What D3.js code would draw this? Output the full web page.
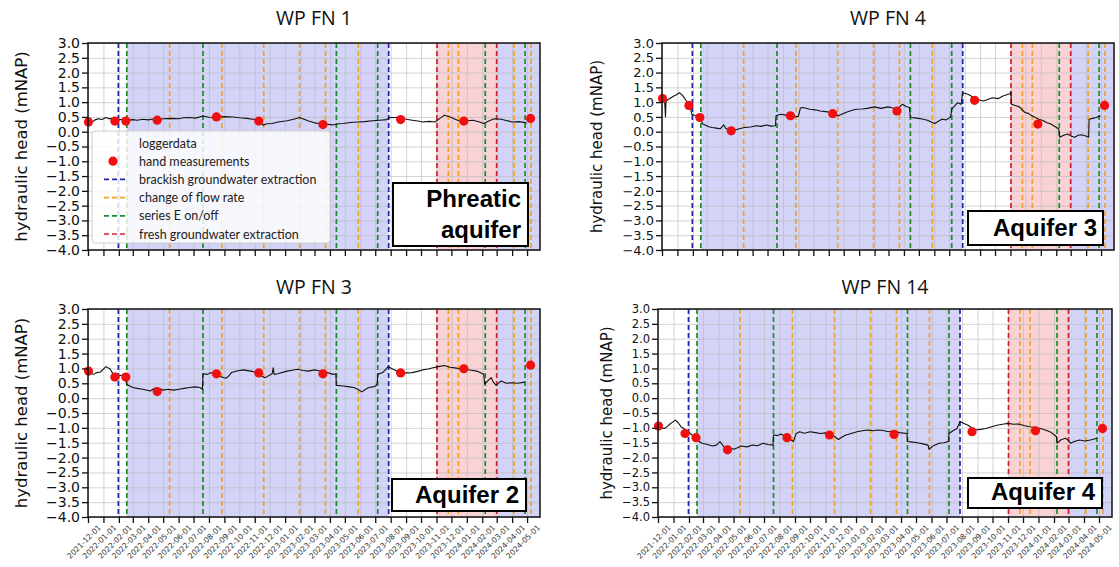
<!DOCTYPE html>
<html>
<head>
<meta charset="utf-8">
<script src="https://cdn.jsdelivr.net/npm/d3@7"></script>
<style>
body { margin: 0; background: #fff; }
svg { display: block; }
</style>
</head>
<body>
<svg id="svg" width="1119" height="567"></svg>
<script>
var parse = d3.timeParse("%Y-%m-%d");

// axis range
var dateStart = "2021-12-01", dateEnd = "2024-05-27";
var firstTick = "2021-12-01", lastTick = "2024-05-01";
var yTicks = d3.range(-4, 3.001, 0.5);

// events (dashed lines)
var brackishDates = ["2022-01-31", "2023-07-28"];
var flowRateDates = ["2022-05-14", "2022-08-27", "2022-11-19", "2023-01-30", "2023-03-23",
    "2023-05-28", "2023-11-25", "2023-12-15", "2024-04-05", "2024-05-09"];
var seriesEDates = ["2022-02-17", "2022-07-20", "2023-04-14", "2023-07-06", "2024-02-07", "2024-04-27"];
var freshDates = ["2023-11-02", "2024-03-01"];

// shaded periods
var brackishPeriods = [["2022-02-17", "2023-07-28"], ["2024-03-01", "2024-05-27"]];
var freshPeriods = [["2023-11-02", "2024-03-01"]];

// hand measurements
var handDates = ["2021-12-02", "2022-01-24", "2022-02-15", "2022-04-19", "2022-08-16",
    "2022-11-09", "2023-03-18", "2023-08-21", "2023-12-26", "2024-05-08"];
var handFN1 = [0.33, 0.36, 0.36, 0.39, 0.50, 0.36, 0.24, 0.41, 0.36, 0.45];
var handFN4 = [1.12, 0.89, 0.48, 0.03, 0.54, 0.61, 0.70, 1.06, 0.26, 0.89];
var handFN3 = [0.91, 0.71, 0.71, 0.22, 0.82, 0.85, 0.82, 0.85, 0.99, 1.11];
var handFN14 = [-0.94, -1.19, -1.33, -1.74, -1.33, -1.24, -1.22, -1.13, -1.10, -1.02];

// logger data
var loggerFN1 = [["2021-12-01",0.33],["2021-12-05",0.27],["2021-12-08",0.30],["2021-12-15",0.40],["2021-12-22",0.44],
    ["2021-12-29",0.41],["2022-01-06",0.48],["2022-01-12",0.44],["2022-01-17",0.45],["2022-01-24",0.40],["2022-02-01",0.40],
    ["2022-02-09",0.42],["2022-02-17",0.39],["2022-03-01",0.41],["2022-03-10",0.39],["2022-03-21",0.42],["2022-04-01",0.40],
    ["2022-04-10",0.43],["2022-04-19",0.41],["2022-05-01",0.44],["2022-05-18",0.45],["2022-06-01",0.44],["2022-06-10",0.47],
    ["2022-06-23",0.48],["2022-07-05",0.46],["2022-07-20",0.53],["2022-08-01",0.49],["2022-08-16",0.48],["2022-09-01",0.51],
    ["2022-09-18",0.50],["2022-10-01",0.47],["2022-10-17",0.45],["2022-10-28",0.42],["2022-11-08",0.39],["2022-11-14",0.30],
    ["2022-11-18",0.22],["2022-11-25",0.27],["2022-12-06",0.28],["2022-12-18",0.33],["2023-01-05",0.37],["2023-01-18",0.42],
    ["2023-01-30",0.48],["2023-02-08",0.42],["2023-02-16",0.37],["2023-03-01",0.30],["2023-03-10",0.28],["2023-03-19",0.26],
    ["2023-04-07",0.23],["2023-04-18",0.27],["2023-04-28",0.28],["2023-05-12",0.31],["2023-05-27",0.33],["2023-06-10",0.34],
    ["2023-06-25",0.37],["2023-07-10",0.39],["2023-07-24",0.41],["2023-07-31",0.48],["2023-08-15",0.48],["2023-08-30",0.43],
    ["2023-09-13",0.39],["2023-09-25",0.36],["2023-10-04",0.33],["2023-10-18",0.35],["2023-10-29",0.33],["2023-11-08",0.45],
    ["2023-11-17",0.56],["2023-11-24",0.52],["2023-12-01",0.48],["2023-12-12",0.40],["2023-12-22",0.33],["2024-01-03",0.37],
    ["2024-01-13",0.39],["2024-01-25",0.34],["2024-02-04",0.28],["2024-02-14",0.36],["2024-02-25",0.44],["2024-03-10",0.42],
    ["2024-03-20",0.38],["2024-04-01",0.33],["2024-04-15",0.34],["2024-04-30",0.30]];

var loggerFN4 = [["2021-12-03",1.04],["2021-12-06",1.08],["2021-12-07",0.82],["2021-12-08",0.50],["2021-12-09",1.02],
    ["2021-12-14",1.10],["2021-12-20",1.16],["2021-12-25",1.21],["2021-12-30",1.25],["2022-01-05",1.32],["2022-01-09",1.26],
    ["2022-01-12",1.21],["2022-01-19",1.04],["2022-01-26",0.87],["2022-01-30",0.59],["2022-02-07",0.54],["2022-02-15",0.46],
    ["2022-02-21",0.26],["2022-03-05",0.17],["2022-03-12",0.14],["2022-03-20",0.12],["2022-03-28",0.10],["2022-04-04",0.23],
    ["2022-04-08",0.12],["2022-04-11",0.09],["2022-04-25",0.05],["2022-05-05",0.10],["2022-05-16",0.14],["2022-05-28",0.16],
    ["2022-06-08",0.20],["2022-06-18",0.18],["2022-06-29",0.23],["2022-07-08",0.19],["2022-07-17",0.20],["2022-07-18",0.54],
    ["2022-07-27",0.59],["2022-08-04",0.57],["2022-08-12",0.54],["2022-08-22",0.50],["2022-09-01",0.52],["2022-09-05",0.80],
    ["2022-09-10",0.82],["2022-09-24",0.76],["2022-10-05",0.74],["2022-10-15",0.70],["2022-10-26",0.68],["2022-11-06",0.65],
    ["2022-11-14",0.60],["2022-11-20",0.54],["2022-12-05",0.65],["2022-12-15",0.71],["2022-12-26",0.76],["2023-01-07",0.77],
    ["2023-01-17",0.79],["2023-02-01",0.84],["2023-02-14",0.79],["2023-02-28",0.84],["2023-03-08",0.81],["2023-03-18",0.76],
    ["2023-03-29",0.93],["2023-04-05",0.85],["2023-04-12",0.82],["2023-04-14",0.48],["2023-04-27",0.46],["2023-05-08",0.43],
    ["2023-05-18",0.39],["2023-06-02",0.28],["2023-06-10",0.36],["2023-06-16",0.42],["2023-06-25",0.40],["2023-07-04",0.50],
    ["2023-07-06",0.76],["2023-07-18",0.98],["2023-07-25",0.93],["2023-07-28",1.32],["2023-08-09",1.26],["2023-08-24",1.10],
    ["2023-09-08",1.04],["2023-09-26",1.15],["2023-10-08",1.12],["2023-10-17",1.21],["2023-11-01",1.29],["2023-11-02",1.36],
    ["2023-11-03",0.93],["2023-11-12",0.88],["2023-11-19",0.84],["2023-11-30",0.65],["2023-12-07",0.62],["2023-12-14",0.54],
    ["2023-12-28",0.42],["2024-01-05",0.38],["2024-01-12",0.31],["2024-01-20",0.27],["2024-01-27",0.20],["2024-02-06",0.09],
    ["2024-02-08",-0.19],["2024-02-16",-0.12],["2024-02-24",-0.08],["2024-03-02",-0.15],["2024-03-09",-0.19],["2024-03-16",-0.12],
    ["2024-03-23",-0.10],["2024-03-30",-0.14],["2024-04-06",-0.19],["2024-04-07",0.42],["2024-04-14",0.45],["2024-04-21",0.48],
    ["2024-04-30",0.54]];

var loggerFN3 = [["2021-12-01",0.91],["2021-12-06",0.85],["2021-12-12",0.80],["2021-12-19",0.86],["2021-12-26",0.88],
    ["2022-01-01",0.98],["2022-01-06",1.06],["2022-01-10",1.02],["2022-01-14",0.99],["2022-01-21",0.80],["2022-01-26",0.84],
    ["2022-02-01",0.75],["2022-02-08",0.78],["2022-02-12",0.72],["2022-02-17",0.47],["2022-02-22",0.42],["2022-03-01",0.36],
    ["2022-03-10",0.33],["2022-03-21",0.30],["2022-04-05",0.24],["2022-04-14",0.33],["2022-04-23",0.32],["2022-05-01",0.27],
    ["2022-05-11",0.30],["2022-05-22",0.27],["2022-06-02",0.30],["2022-06-12",0.33],["2022-06-23",0.36],["2022-07-04",0.38],
    ["2022-07-14",0.36],["2022-07-19",0.30],["2022-07-20",0.82],["2022-07-29",0.80],["2022-08-05",0.86],["2022-08-13",0.77],
    ["2022-08-25",0.72],["2022-09-04",0.67],["2022-09-10",0.75],["2022-09-15",0.86],["2022-09-28",0.92],["2022-10-09",0.95],
    ["2022-10-24",0.91],["2022-11-01",0.88],["2022-11-08",0.80],["2022-11-15",0.74],["2022-11-22",0.69],["2022-12-06",0.82],
    ["2022-12-08",1.02],["2022-12-10",0.80],["2022-12-17",0.82],["2023-01-05",0.91],["2023-01-15",0.94],["2023-01-26",0.97],
    ["2023-02-06",0.93],["2023-02-16",0.91],["2023-03-01",0.95],["2023-03-10",0.92],["2023-03-23",0.88],["2023-04-07",0.80],
    ["2023-04-13",0.82],["2023-04-14",0.43],["2023-04-28",0.41],["2023-05-10",0.38],["2023-05-19",0.36],["2023-05-27",0.30],
    ["2023-06-04",0.21],["2023-06-12",0.30],["2023-06-18",0.36],["2023-06-26",0.38],["2023-07-02",0.41],["2023-07-05",0.50],
    ["2023-07-06",0.80],["2023-07-16",0.86],["2023-07-27",1.06],["2023-08-04",0.99],["2023-08-12",0.92],["2023-08-21",0.83],
    ["2023-09-01",0.85],["2023-09-13",0.86],["2023-09-24",0.90],["2023-10-04",0.95],["2023-10-15",0.98],["2023-10-25",1.02],
    ["2023-11-05",1.06],["2023-11-17",1.10],["2023-11-28",1.04],["2023-12-08",1.02],["2023-12-18",0.99],["2023-12-30",0.97],
    ["2024-01-10",0.94],["2024-01-21",0.91],["2024-02-04",0.80],["2024-02-06",0.47],["2024-02-12",0.58],["2024-02-19",0.69],
    ["2024-02-24",0.52],["2024-02-29",0.43],["2024-03-10",0.58],["2024-03-20",0.50],["2024-04-01",0.52],["2024-04-12",0.50],
    ["2024-04-26",0.54]];

var loggerFN14 = [["2021-12-03",-0.94],["2021-12-08",-1.00],["2021-12-14",-1.02],["2021-12-20",-0.95],["2021-12-25",-0.87],
    ["2021-12-31",-0.80],["2022-01-05",-0.74],["2022-01-10",-0.82],["2022-01-16",-0.96],["2022-01-26",-1.07],["2022-02-01",-1.15],
    ["2022-02-07",-1.24],["2022-02-17",-1.41],["2022-02-27",-1.52],["2022-03-08",-1.55],["2022-03-20",-1.61],["2022-03-28",-1.58],
    ["2022-04-04",-1.46],["2022-04-10",-1.60],["2022-04-14",-1.69],["2022-04-24",-1.68],["2022-05-02",-1.72],["2022-05-10",-1.66],
    ["2022-05-16",-1.61],["2022-05-28",-1.64],["2022-06-08",-1.58],["2022-06-18",-1.60],["2022-06-29",-1.52],["2022-07-09",-1.56],
    ["2022-07-19",-1.58],["2022-07-20",-1.24],["2022-07-28",-1.26],["2022-08-04",-1.21],["2022-08-18",-1.35],["2022-08-29",-1.46],
    ["2022-09-03",-1.20],["2022-09-10",-1.13],["2022-09-20",-1.18],["2022-10-01",-1.13],["2022-10-12",-1.16],["2022-10-22",-1.19],
    ["2022-11-01",-1.17],["2022-11-13",-1.21],["2022-11-27",-1.39],["2022-12-05",-1.30],["2022-12-12",-1.24],["2022-12-24",-1.18],
    ["2023-01-03",-1.13],["2023-01-14",-1.10],["2023-01-25",-1.07],["2023-02-04",-1.10],["2023-02-14",-1.07],["2023-02-24",-1.09],
    ["2023-03-07",-1.13],["2023-03-18",-1.10],["2023-03-29",-1.16],["2023-04-13",-1.19],["2023-04-14",-1.46],["2023-04-24",-1.48],
    ["2023-05-04",-1.50],["2023-05-15",-1.54],["2023-05-25",-1.58],["2023-05-27",-1.72],["2023-06-05",-1.60],["2023-06-16",-1.52],
    ["2023-06-26",-1.50],["2023-07-05",-1.46],["2023-07-06",-1.19],["2023-07-14",-1.10],["2023-07-22",-1.02],["2023-07-28",-0.79],
    ["2023-08-05",-0.85],["2023-08-13",-0.91],["2023-08-27",-1.07],["2023-09-07",-1.05],["2023-09-18",-1.02],["2023-09-29",-0.96],
    ["2023-10-10",-0.91],["2023-10-21",-0.88],["2023-11-01",-0.85],["2023-11-12",-0.88],["2023-11-22",-0.87],["2023-12-03",-0.92],
    ["2023-12-14",-0.96],["2023-12-25",-0.99],["2024-01-05",-1.02],["2024-01-16",-1.08],["2024-01-27",-1.16],["2024-02-06",-1.30],
    ["2024-02-07",-1.52],["2024-02-15",-1.40],["2024-02-24",-1.35],["2024-03-01",-1.42],["2024-03-05",-1.52],["2024-03-14",-1.45],
    ["2024-03-23",-1.41],["2024-04-03",-1.44],["2024-04-14",-1.41],["2024-04-27",-1.35]];

var legendLabels = ["loggerdata", "hand measurements", "brackish groundwater extraction",
    "change of flow rate", "series E on/off", "fresh groundwater extraction"];

var svg = d3.select("#svg");

var eventStyles = [
    { dates: brackishDates, color: "#2323a8" },
    { dates: flowRateDates, color: "#f0a32a" },
    { dates: seriesEDates, color: "#1c8a2e" },
    { dates: freshDates, color: "#d0202e" }
];

var panels = [
    { title: "WP FN 1", left: 88, right: 540, top: 43, bottom: 250, titleY: 25, tickFont: 14, labelX: 27, labelFont: 16.5,
      logger: loggerFN1, hand: handFN1, xLabels: false, legend: true,
      box: { x: 393, y: 183, w: 135, h: 63, lines: ["Phreatic", "aquifer"], tx: 521, ty: [207, 238] } },
    { title: "WP FN 4", left: 662, right: 1114, top: 43, bottom: 250, titleY: 25, tickFont: 13, labelX: 602, labelFont: 15,
      logger: loggerFN4, hand: handFN4, xLabels: false, legend: false,
      box: { x: 968, y: 211, w: 135, h: 34, lines: ["Aquifer 3"], tx: 1097, ty: [236] } },
    { title: "WP FN 3", left: 88, right: 540, top: 309, bottom: 517, titleY: 294, tickFont: 14, labelX: 27, labelFont: 16.5,
      logger: loggerFN3, hand: handFN3, xLabels: true, legend: false,
      box: { x: 392, y: 479, w: 134, h: 32, lines: ["Aquifer 2"], tx: 519, ty: [503] } },
    { title: "WP FN 14", left: 658, right: 1112, top: 309, bottom: 517, titleY: 294, tickFont: 11.5, labelX: 612, labelFont: 15,
      logger: loggerFN14, hand: handFN14, xLabels: true, legend: false,
      box: { x: 968, y: 478, w: 134, h: 30, lines: ["Aquifer 4"], tx: 1095, ty: [500] } }
];

panels.forEach(drawPanel);

function drawPanel(p) {
    var g = svg.append("g");
    var h = p.bottom - p.top;

    var x = d3.scaleTime()
        .domain([parse(dateStart), parse(dateEnd)])
        .range([p.left, p.right]);
    var y = d3.scaleLinear()
        .domain([-4, 3])
        .range([p.bottom, p.top]);
    var months = d3.timeMonth.range(parse(firstTick), d3.timeDay.offset(parse(lastTick), 1));

    // shaded periods
    g.selectAll("rect.brackish")
        .data(brackishPeriods)
        .enter()
        .append("rect")
        .attr("x", d => x(parse(d[0])))
        .attr("width", d => x(parse(d[1])) - x(parse(d[0])))
        .attr("y", p.top)
        .attr("height", h)
        .attr("fill", "#d3d3f7");

    g.selectAll("rect.fresh")
        .data(freshPeriods)
        .enter()
        .append("rect")
        .attr("x", d => x(parse(d[0])))
        .attr("width", d => x(parse(d[1])) - x(parse(d[0])))
        .attr("y", p.top)
        .attr("height", h)
        .attr("fill", "#f8d2d4");

    // grid
    g.append("g")
        .attr("transform", "translate(0," + p.bottom + ")")
        .call(d3.axisBottom(x).tickValues(months).tickSize(-h).tickFormat(""))
        .call(s => s.select(".domain").remove())
        .selectAll("line")
        .attr("stroke", "#b8b8b8")
        .attr("stroke-opacity", 0.6);

    g.append("g")
        .attr("transform", "translate(" + p.left + ",0)")
        .call(d3.axisLeft(y).tickValues(yTicks).tickSize(-(p.right - p.left)).tickFormat(""))
        .call(s => s.select(".domain").remove())
        .selectAll("line")
        .attr("stroke", "#b8b8b8")
        .attr("stroke-opacity", 0.6);

    // event lines
    eventStyles.forEach(ev => {
        g.selectAll(null)
            .data(ev.dates)
            .enter()
            .append("line")
            .attr("x1", d => x(parse(d)))
            .attr("x2", d => x(parse(d)))
            .attr("y1", p.top)
            .attr("y2", p.bottom)
            .attr("stroke", ev.color)
            .attr("stroke-width", 1.7)
            .attr("stroke-dasharray", "5,3");
    });

    // logger line
    var line = d3.line()
        .x(d => x(parse(d[0])))
        .y(d => y(d[1]));

    g.append("path")
        .datum(p.logger)
        .attr("d", line)
        .attr("fill", "none")
        .attr("stroke", "#111")
        .attr("stroke-width", 1.1)
        .attr("stroke-linejoin", "round");

    // hand measurements
    g.selectAll("circle")
        .data(handDates.map((d, i) => [d, p.hand[i]]))
        .enter()
        .append("circle")
        .attr("cx", d => x(parse(d[0])))
        .attr("cy", d => y(d[1]))
        .attr("r", 4.6)
        .attr("fill", "#f01010");

    // frame
    g.append("rect")
        .attr("x", p.left)
        .attr("y", p.top)
        .attr("width", p.right - p.left)
        .attr("height", h)
        .attr("fill", "none")
        .attr("stroke", "#111")
        .attr("stroke-width", 1.5);

    // axes
    var xAxis = g.append("g")
        .attr("transform", "translate(0," + p.bottom + ")")
        .call(d3.axisBottom(x).tickValues(months).tickSize(6)
            .tickFormat(p.xLabels ? d3.timeFormat("%Y-%m-%d") : ""));
    xAxis.select(".domain").remove();
    xAxis.selectAll("line").attr("stroke", "#111").attr("stroke-width", 1.3);
    xAxis.selectAll("text")
        .attr("x", 0)
        .attr("y", 0)
        .attr("dy", null)
        .attr("text-anchor", "end")
        .attr("transform", "translate(13,11) rotate(-45)")
        .attr("font-family", "DejaVu Sans")
        .attr("font-size", 7.6)
        .attr("fill", "#333");

    var yAxis = g.append("g")
        .attr("transform", "translate(" + p.left + ",0)")
        .call(d3.axisLeft(y).tickValues(yTicks).tickSize(6).tickPadding(2).tickFormat(d3.format(".1f")));
    yAxis.select(".domain").remove();
    yAxis.selectAll("line").attr("stroke", "#111").attr("stroke-width", 1.3);
    yAxis.selectAll("text")
        .attr("font-family", "DejaVu Sans")
        .attr("font-size", p.tickFont)
        .attr("fill", "#111");

    // titles
    g.append("text")
        .attr("x", (p.left + p.right) / 2)
        .attr("y", p.titleY)
        .attr("text-anchor", "middle")
        .attr("font-family", "Open Sans")
        .attr("font-size", 19.5)
        .attr("fill", "#111")
        .text(p.title);

    g.append("text")
        .attr("transform", "translate(" + p.labelX + "," + (p.top + p.bottom) / 2 + ") rotate(-90)")
        .attr("text-anchor", "middle")
        .attr("font-family", "DejaVu Sans")
        .attr("font-size", p.labelFont)
        .attr("fill", "#111")
        .text("hydraulic head (mNAP)");

    // aquifer box
    g.append("rect")
        .attr("x", p.box.x)
        .attr("y", p.box.y)
        .attr("width", p.box.w)
        .attr("height", p.box.h)
        .attr("fill", "#fff")
        .attr("stroke", "#000")
        .attr("stroke-width", 2);

    p.box.lines.forEach((t, i) => {
        g.append("text")
            .attr("x", p.box.tx)
            .attr("y", p.box.ty[i])
            .attr("text-anchor", "end")
            .attr("font-family", "Liberation Sans")
            .attr("font-weight", "bold")
            .attr("font-size", 24)
            .attr("fill", "#000")
            .text(t);
    });

    if (p.legend) drawLegend(g);
}

function drawLegend(g) {
    var lg = g.append("g").attr("transform", "translate(92,131)");
    lg.append("rect")
        .attr("width", 238)
        .attr("height", 112)
        .attr("rx", 3)
        .attr("fill", "#fff")
        .attr("fill-opacity", 0.82)
        .attr("stroke", "#d0d0d0");

    var rows = lg.selectAll("g.row")
        .data(legendLabels)
        .enter()
        .append("g")
        .attr("transform", (d, i) => "translate(0," + (12 + i * 18.2) + ")");

    rows.append("text")
        .attr("x", 47)
        .attr("y", 4.5)
        .attr("font-family", "Lato")
        .attr("font-size", 12.5)
        .attr("fill", "#222")
        .text(d => d);

    rows.filter((d, i) => i === 1)
        .append("circle")
        .attr("cx", 21)
        .attr("r", 4.6)
        .attr("fill", "#f01010");

    rows.filter((d, i) => i >= 2)
        .append("line")
        .attr("x1", 12)
        .attr("x2", 36)
        .attr("stroke", (d, i) => eventStyles[i].color)
        .attr("stroke-width", 1.7)
        .attr("stroke-dasharray", "5,3");
}
</script>
</body>
</html>
